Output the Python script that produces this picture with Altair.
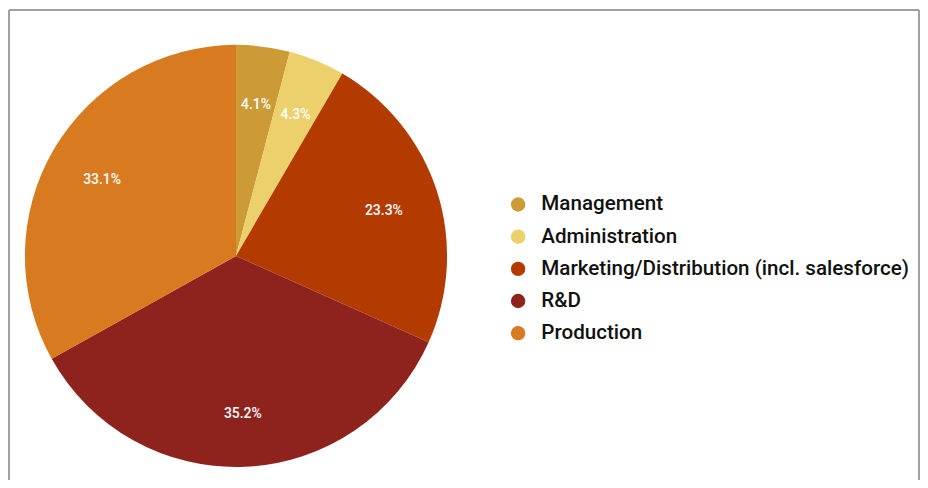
import altair as alt
import pandas as pd

categories = ["Management", "Administration", "Marketing/Distribution (incl. salesforce)", "R&D", "Production"]
shares = [4.1, 4.3, 23.3, 35.2, 33.1]
labels = ["4.1%", "4.3%", "23.3%", "35.2%", "33.1%"]
colors = ["#cc9b35", "#ebd06b", "#b43b00", "#8e231e", "#d87a1f"]

df = pd.DataFrame({"category": categories, "share": shares, "label": labels, "order": list(range(len(categories)))})

W, H = 916, 472
CX, CY, R = 229, 248, 212

base = alt.Chart(df).encode(
    theta=alt.Theta("share:Q", stack=True),
    order=alt.Order("order:Q"),
)

pie = base.mark_arc(radius=R, stroke=None).encode(
    x=alt.value(CX), y=alt.value(CY),
    color=alt.Color(
        "category:N",
        sort=categories,
        scale=alt.Scale(domain=categories, range=colors),
        legend=alt.Legend(
            title=None, orient="none", legendX=502, legendY=186,
            symbolType="circle", symbolSize=210, symbolStrokeWidth=0,
            labelFontSize=20.7, labelFont="Roboto", labelFontWeight=500,
            labelColor="#111111", labelOffset=13, rowPadding=10.3, padding=0,
            labelLimit=500,
        ),
    ),
)

text = base.mark_text(radius=156, dy=3, font="Roboto", fontSize=14, fontWeight=500, color="white").encode(
    x=alt.value(CX), y=alt.value(CY),
    text="label:N",
)

frame_src = pd.DataFrame({"k": [0]})
top = alt.Chart(frame_src).mark_rule(color="#a0a0a0", strokeWidth=2).encode(
    x=alt.value(1), x2=alt.value(W - 1), y=alt.value(1))
left = alt.Chart(frame_src).mark_rule(color="#a0a0a0", strokeWidth=2).encode(
    x=alt.value(1), y=alt.value(1), y2=alt.value(H + 10))
right = alt.Chart(frame_src).mark_rule(color="#a0a0a0", strokeWidth=2).encode(
    x=alt.value(W - 1), y=alt.value(1), y2=alt.value(H + 10))

chart = alt.layer(pie, text, top, left, right).properties(
    width=W, height=H, padding=0, autosize=alt.AutoSizeParams(type="none"),
    background="white",
).configure_view(stroke=None)

chart.save("out.html", embed_options={"renderer": "svg", "actions": False})
